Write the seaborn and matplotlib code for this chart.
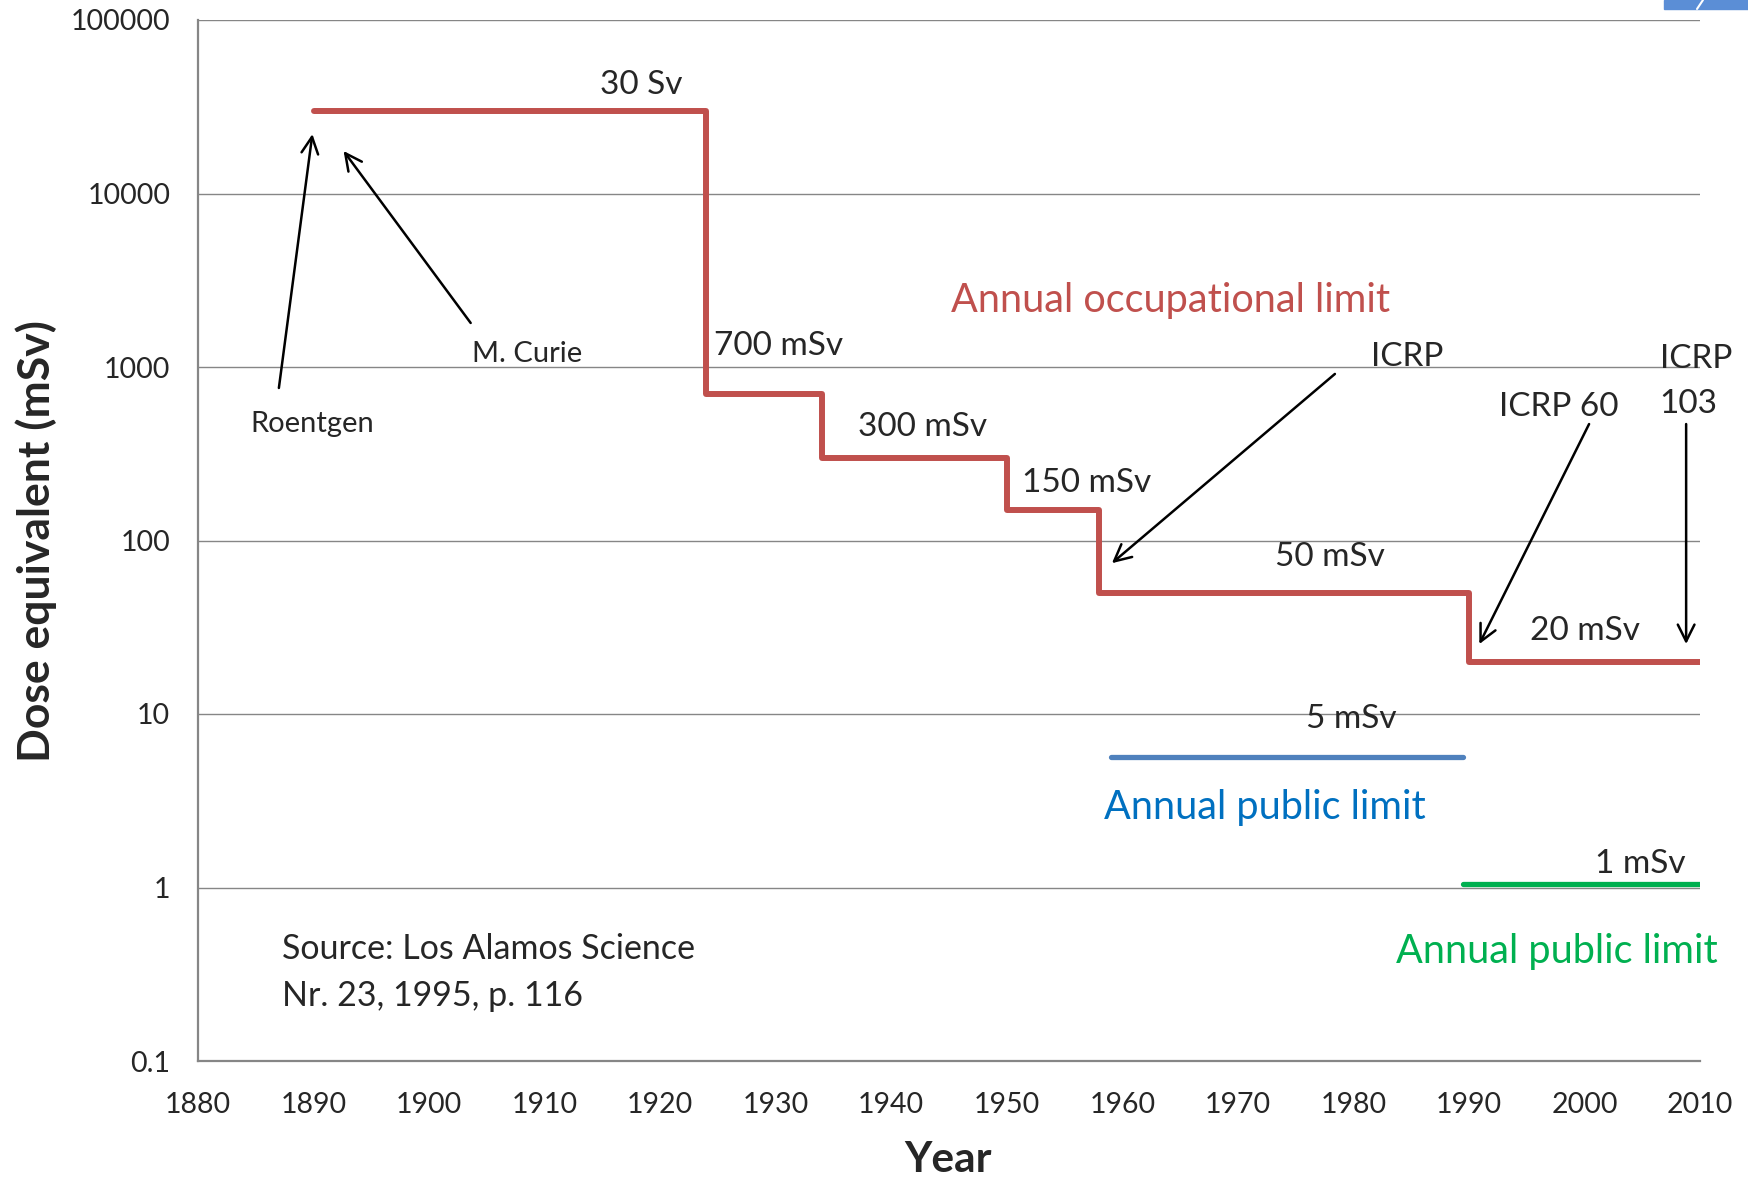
import numpy as np
import pandas as pd
import matplotlib
matplotlib.use("Agg")
import matplotlib.pyplot as plt
import matplotlib.ticker as mticker
from matplotlib.patches import Rectangle
import seaborn as sns

# --- data ---
occ_years = [1890, 1924, 1934, 1950, 1958, 1990, 2010]
occ_limit = [30000, 700, 300, 150, 50, 20, 20]
pub1_years = [1959, 1989.5]
pub1_limit = [5.65, 5.65]
pub2_years = [1989.5, 2010]
pub2_limit = [1.045, 1.045]

step_labels = ["30 Sv", "700 mSv", "300 mSv", "150 mSv", "50 mSv", "20 mSv", "5 mSv", "1 mSv"]

RED = "#C0504D"
BLUE = "#4F81BD"
GREEN = "#00B050"
GRID = "#868686"

sns.set_style("white")
plt.rcParams["font.family"] = ["Lato", "DejaVu Sans"]

fig = plt.figure(figsize=(17.49, 11.81), dpi=100)
ax = fig.add_axes([198 / 1749, 1 - 1061 / 1181, 1502 / 1749, 1041 / 1181])

occ = pd.DataFrame({"year": occ_years, "dose": occ_limit})
sns.lineplot(data=occ, x="year", y="dose", color=RED, lw=4.3, drawstyle="steps-post",
             solid_capstyle="round", ax=ax, zorder=3)
sns.lineplot(x=pub1_years, y=pub1_limit, color=BLUE, lw=3.8, ax=ax, zorder=3)
sns.lineplot(x=pub2_years, y=pub2_limit, color=GREEN, lw=3.8, ax=ax, zorder=3)

ax.set_yscale("log")
ax.set_ylim(0.1, 100000)
ax.set_xlim(1880, 2010)
ax.set_xticks(np.arange(1880, 2011, 10))
ax.xaxis.set_minor_locator(mticker.MultipleLocator(2))
ax.yaxis.set_major_locator(mticker.LogLocator(base=10, numticks=10))
ax.yaxis.set_minor_locator(mticker.LogLocator(base=10, subs=np.arange(2, 10), numticks=20))
ax.yaxis.set_major_formatter(mticker.FuncFormatter(lambda v, p: f"{v:g}" if v < 1 else f"{int(round(v))}"))
ax.yaxis.set_minor_formatter(mticker.NullFormatter())

ax.grid(axis="y", which="major", color=GRID, lw=1.0)
ax.grid(axis="x", visible=False)
for s in ["top", "right"]:
    ax.spines[s].set_visible(False)
for s in ["left", "bottom"]:
    ax.spines[s].set_color(GRID)
    ax.spines[s].set_linewidth(1.6)

ax.tick_params(axis="x", which="major", direction="inout", length=12, width=1.6, color=GRID,
               labelsize=20.5, pad=16)
ax.tick_params(axis="x", which="minor", direction="in", length=5, width=1.3, color=GRID)
ax.tick_params(axis="y", which="major", direction="out", length=8, width=1.6, color=GRID,
               labelsize=20.5, pad=12)
ax.tick_params(axis="y", which="minor", direction="in", length=5, width=1.3, color=GRID)

ax.set_xlabel("Year", fontsize=30.5, fontweight="bold", va="center")
ax.xaxis.set_label_coords(0.4993, -0.0951)
ax.set_ylabel("Dose equivalent (mSv)", fontsize=32, fontweight="bold", va="center")
ax.yaxis.set_label_coords(-0.1079, 0.4995)

# --- step value labels ---
fs = 24
ax.text(1918.4, 42200, step_labels[0], fontsize=fs, ha="center", va="center")
ax.text(1924.7, 1321, step_labels[1], fontsize=fs, va="center")
ax.text(1937.1, 451, step_labels[2], fontsize=fs, va="center")
ax.text(1951.3, 214, step_labels[3], fontsize=fs, va="center")
ax.text(1973.2, 80.3, step_labels[4], fontsize=fs, va="center")
ax.text(1995.3, 30.1, step_labels[5], fontsize=fs, va="center")
ax.text(1975.9, 9.35, step_labels[6], fontsize=fs, va="center")
ax.text(2000.95, 1.365, step_labels[7], fontsize=fs, va="center")

ax.text(1945.2, 2432, "Annual occupational limit", fontsize=28.5, color=RED, va="center")
ax.text(1958.4, 2.91, "Annual public limit", fontsize=28.5, color="#0070C0", va="center")
ax.text(1983.7, 0.43, "Annual public limit", fontsize=28.5, color=GREEN, va="center", clip_on=False)

ax.text(1887.3, 0.324, "Source: Los Alamos Science\nNr. 23, 1995, p. 116", fontsize=24.5,
        va="center", linespacing=1.55)

# --- arrows with their labels ---
arrow = dict(arrowstyle="->", color="black", lw=1.8, mutation_scale=30, shrinkA=0, shrinkB=0)
ax.annotate("", xy=(1889.9, 22000), xytext=(1887.0, 757), arrowprops=arrow)
ax.text(1884.5, 469, "Roentgen", fontsize=21, va="center")
ax.annotate("", xy=(1892.6, 17580), xytext=(1903.6, 1794), arrowprops=arrow)
ax.text(1903.7, 1188, "M. Curie", fontsize=21, va="center")
ax.annotate("", xy=(1959.1, 74), xytext=(1978.4, 912), arrowprops=arrow)
ax.text(1981.5, 1142, "ICRP", fontsize=24, va="center")
ax.annotate("", xy=(1990.9, 25.3), xytext=(2000.4, 469), arrowprops=arrow)
ax.text(1992.6, 588, "ICRP 60", fontsize=24, va="center")
ax.annotate("", xy=(2008.8, 25.3), xytext=(2008.8, 469), arrowprops=arrow)
ax.text(2006.5, 825, "ICRP\n103", fontsize=24, va="center", linespacing=1.6, clip_on=False)

# slide-corner decoration at the top right
fig.patches.append(Rectangle((1664 / 1749, 1 - 9 / 1181), 85 / 1749, 9 / 1181,
                             transform=fig.transFigure, color="#5B8ED6", zorder=0))
fig.lines.append(plt.Line2D([1697 / 1749, 1703 / 1749], [1 - 9 / 1181, 1.0],
                            transform=fig.transFigure, color="white", lw=1.5))

fig.savefig("out.png", dpi=100)
